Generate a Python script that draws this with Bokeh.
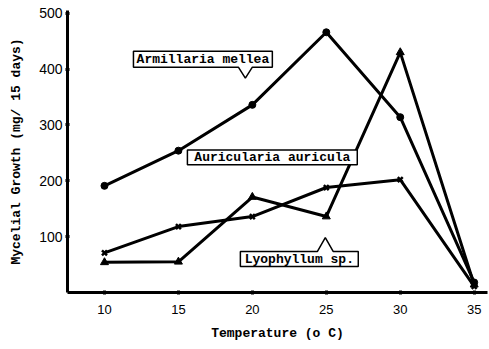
from bokeh.plotting import figure
from bokeh.models import Range1d, FixedTicker, Label
from bokeh.embed import file_html
from bokeh.resources import INLINE

# Data
temps = [10, 15, 20, 25, 30, 35]
armillaria = [191, 254, 336, 466, 314, 18]
auricularia = [54, 55, 171, 136, 430, 14]
lyophyllum = [71, 118, 136, 188, 202, 11]
x_ticks = [10, 15, 20, 25, 30, 35]
y_ticks = [100, 200, 300, 400, 500]
names = ["Armillaria mellea", "Auricularia auricula", "Lyophyllum sp."]

MONO = "Liberation Mono"
SANS = "Liberation Sans"

p = figure(width=489, height=349, output_backend="svg", toolbar_location=None,
           x_range=Range1d(7.5, 35.9), y_range=Range1d(0, 505),
           min_border_left=67, min_border_right=2, min_border_top=10, min_border_bottom=57)
p.outline_line_color = None
p.grid.visible = False
p.background_fill_color = "white"

for ax in (p.xaxis[0], p.yaxis[0]):
    ax.axis_line_width = 3
    ax.axis_line_color = "black"
    ax.major_tick_line_width = 3
    ax.major_tick_in = 2
    ax.major_tick_out = 2
    ax.minor_tick_line_color = None
    ax.major_label_text_font = SANS
    ax.major_label_text_color = "black"
    ax.axis_label_text_font = MONO
    ax.axis_label_text_font_style = "bold"
    ax.axis_label_text_font_size = "13px"
    ax.axis_label_text_color = "black"

p.xaxis.major_label_text_font_size = "13px"
p.yaxis.major_label_text_font_size = "14px"
p.xaxis.ticker = FixedTicker(ticks=x_ticks)
p.yaxis.ticker = FixedTicker(ticks=y_ticks)
p.xaxis.axis_label = "Temperature (o C)"
p.yaxis.axis_label = "Mycelial Growth (mg/ 15 days)"
p.xaxis.major_label_standoff = 10
p.xaxis.axis_label_standoff = 9
p.yaxis.major_label_standoff = 3
p.yaxis.axis_label_standoff = 12

LW = 3
p.line(temps, armillaria, line_width=LW, color="black")
p.scatter(temps, armillaria, marker="circle", size=7, color="black")
p.line(temps, auricularia, line_width=LW, color="black")
p.scatter(temps, auricularia, marker="triangle", size=8, color="black")
p.line(temps, lyophyllum, line_width=LW, color="black")
p.scatter(temps, lyophyllum, marker="x", size=7, line_width=2.5, color="black")

# helpers: page pixel -> data coords
def dx(px):
    return 10 + (px - 104) / 14.8

def dy(py):
    return (293 - py) / 0.56

def callout(x0, y0, x1, y1, text, pointer=None):
    xs = [x0, x1, x1, x0]
    ys = [y0, y0, y1, y1]
    if pointer is not None:
        xa, xt, xb, yt, side = pointer
        if side == "bottom":
            xs = [x0, x1, x1, xb, xt, xa, x0]
            ys = [y0, y0, y1, y1, yt, y1, y1]
        else:
            xs = [x0, xa, xt, xb, x1, x1, x0]
            ys = [y0, y0, yt, y0, y0, y1, y1]
    p.patch([dx(v) for v in xs], [dy(v) for v in ys], fill_color="white",
            line_color="black", line_width=1.5)
    p.add_layout(Label(x=dx((x0 + x1) / 2), y=dy((y0 + y1) / 2), text=text,
                       text_font=MONO, text_font_style="bold", text_font_size="13px",
                       text_align="center", text_baseline="middle", text_color="black"))

callout(133, 51, 272, 67, names[0], pointer=(238, 245, 252, 78, "bottom"))
callout(187, 150, 357, 165, names[1])
callout(240, 252, 358, 267, names[2], pointer=(317, 325, 333, 238, "top"))

open("out.html", "w").write(file_html(p, INLINE))
